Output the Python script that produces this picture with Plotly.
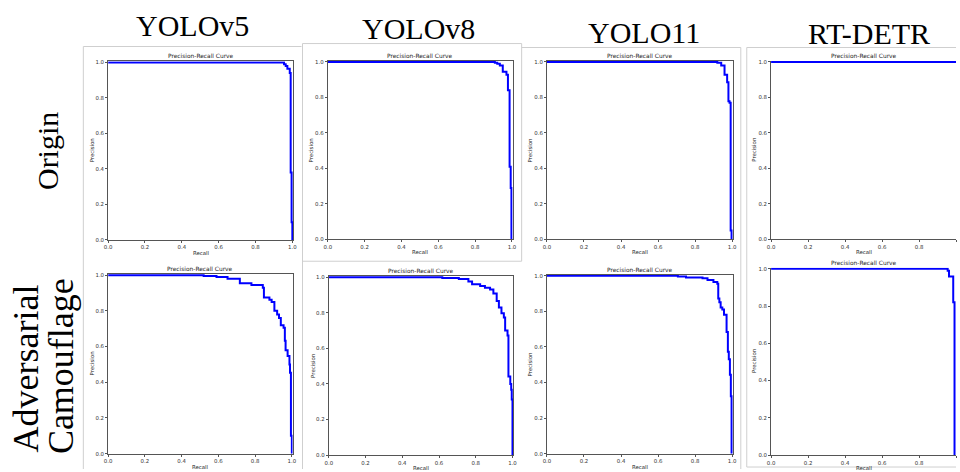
import plotly.graph_objects as go

# ---------------- data ----------------
models = ["YOLOv5", "YOLOv8", "YOLO11", "RT-DETR"]
row_labels = ["Origin", ["Adversarial", "Camouflage"]]
panel_title = "Precision-Recall Curve"
x_label = "Recall"
y_label = "Precision"
tick_vals = [0.0, 0.2, 0.4, 0.6, 0.8, 1.0]

# step PR curves: recall where a precision level starts, precision level
v5_orig_recall = [0, 0.955, 0.964, 0.973, 0.986, 0.991, 0.996, 1.0]
v5_orig_prec = [1.0, 0.99, 0.98, 0.965, 0.94, 0.38, 0.10, 0.0]

v5_adv_recall = [0, 0.52, 0.59, 0.65, 0.717, 0.78, 0.842, 0.848, 0.878, 0.89,
                 0.905, 0.92, 0.93, 0.94, 0.955, 0.962, 0.966, 0.977, 0.987,
                 0.99, 0.995, 1.0]
v5_adv_prec = [1.0, 0.995, 0.99, 0.98, 0.955, 0.945, 0.93, 0.875, 0.862, 0.85,
               0.80, 0.78, 0.76, 0.72, 0.706, 0.633, 0.58, 0.547, 0.50,
               0.453, 0.10, 0.0]

v8_orig_recall = [0, 0.907, 0.92, 0.934, 0.95, 0.97, 0.978, 0.987, 0.993, 0.997]
v8_orig_prec = [1.0, 0.995, 0.99, 0.98, 0.945, 0.928, 0.84, 0.41, 0.29, 0.0]

v8_adv_recall = [0, 0.618, 0.708, 0.76, 0.78, 0.824, 0.85, 0.878, 0.896, 0.914,
                 0.926, 0.94, 0.953, 0.96, 0.973, 0.978, 0.988, 0.993, 0.996, 1.0]
v8_adv_prec = [1.0, 0.995, 0.99, 0.975, 0.96, 0.95, 0.94, 0.93, 0.908, 0.866,
               0.829, 0.797, 0.773, 0.70, 0.672, 0.442, 0.40, 0.368, 0.313, 0.0]

y11_orig_recall = [0, 0.92, 0.941, 0.959, 0.973, 0.98, 0.986, 0.992, 0.997]
y11_orig_prec = [1.0, 0.995, 0.98, 0.928, 0.886, 0.779, 0.77, 0.05, 0.0]

y11_adv_recall = [0, 0.707, 0.751, 0.84, 0.867, 0.899, 0.92, 0.925, 0.931, 0.938,
                  0.947, 0.956, 0.97, 0.977, 0.982, 0.988, 0.993, 0.997]
y11_adv_prec = [1.0, 0.995, 0.99, 0.985, 0.975, 0.965, 0.955, 0.871, 0.85, 0.821,
                0.81, 0.78, 0.683, 0.572, 0.53, 0.443, 0.323, 0.0]

rt_orig_recall = [0, 1.0]
rt_orig_prec = [1.0, 1.0]

rt_adv_recall = [0, 0.955, 0.962, 0.985, 0.992]
rt_adv_prec = [1.0, 0.99, 0.958, 0.82, 0.0]

series = [
    (v5_orig_recall, v5_orig_prec), (v5_adv_recall, v5_adv_prec),
    (v8_orig_recall, v8_orig_prec), (v8_adv_recall, v8_adv_prec),
    (y11_orig_recall, y11_orig_prec), (y11_adv_recall, y11_adv_prec),
    (rt_orig_recall, rt_orig_prec), (rt_adv_recall, rt_adv_prec),
]

# ---------------- layout geometry (pixels) ----------------
W, H = 960, 472
# x of recall 0, x of recall 1, y of precision 1, y of precision 0
boxes = [
    (105, 291.5, 60, 240.5), (105, 291, 275, 456.5),
    (326.5, 513, 59.5, 240), (327.5, 513.5, 277, 458),
    (547.5, 735, 59.5, 240), (547.5, 735, 275.5, 456.5),
    (773.5, 960, 59.5, 240), (773.5, 960, 268.5, 458),
]

fx = lambda px: px / W
fy = lambda py: 1 - py / H

fig = go.Figure()
layout = dict(
    width=W, height=H, margin=dict(l=0, r=0, t=0, b=0),
    paper_bgcolor="white", plot_bgcolor="white", showlegend=False,
)
annotations = []
tick_font = dict(family="DejaVu Sans", size=5.4, color="#333333")
small = dict(family="DejaVu Sans", size=5.4, color="#222222")
title_font = dict(family="DejaVu Sans", size=5.9, color="#222222")

for i, ((rec, prec), (x0, x1, yt, yb)) in enumerate(zip(series, boxes)):
    k = i + 1
    xs = "x" if k == 1 else f"x{k}"
    ys = "y" if k == 1 else f"y{k}"
    last_col = i >= 6
    fig.add_trace(go.Scatter(
        x=rec, y=prec, mode="lines", xaxis=xs, yaxis=ys,
        line=dict(color="#0000ff", width=2, shape="hv"),
        hoverinfo="skip", showlegend=False,
    ))
    axis_common = dict(
        showgrid=False, zeroline=False, showline=True, linecolor="#555555",
        linewidth=1, mirror=not last_col, ticks="outside", ticklen=2,
        tickwidth=1, tickcolor="#555555", tickvals=tick_vals,
        tickformat=".1f", tickfont=tick_font, fixedrange=True,
    )
    layout["xaxis" if k == 1 else f"xaxis{k}"] = dict(
        domain=[fx(x0), fx(x1)], range=[0, 1.0 if last_col else 1.004],
        anchor=ys, **axis_common)
    layout["yaxis" if k == 1 else f"yaxis{k}"] = dict(
        domain=[fy(yb), fy(yt)], range=[0, 1.006], anchor=xs, **axis_common)

    annotations.append(dict(
        text=panel_title, xref=f"{xs} domain", yref=f"{ys} domain",
        x=0.5, y=1, xanchor="center", yanchor="bottom",
        yshift=0, showarrow=False, font=title_font))
    annotations.append(dict(
        text=x_label, xref=f"{xs} domain", yref=f"{ys} domain",
        x=0.5, y=0, xanchor="center", yanchor="top", yshift=-8,
        showarrow=False, font=small))
    annotations.append(dict(
        text=y_label, xref=f"{xs} domain", yref=f"{ys} domain",
        x=0, y=0.5, xanchor="center", yanchor="middle", xshift=-16.5,
        textangle=-90, showarrow=False, font=small))

# column titles
title_pos = [(190, 24), (418, 27), (645, 31), (872, 32)]
for name, (px, py) in zip(models, title_pos):
    annotations.append(dict(
        text=name, xref="paper", yref="paper", x=fx(px), y=fy(py),
        xanchor="center", yanchor="middle", showarrow=False,
        font=dict(family="Liberation Serif", size=30, color="black")))

# row labels
annotations.append(dict(
    text=row_labels[0], xref="paper", yref="paper", x=fx(44), y=fy(151),
    xanchor="center", yanchor="middle", textangle=-90, showarrow=False,
    font=dict(family="Liberation Serif", size=30, color="black")))
for txt, (px, py) in zip(row_labels[1], [(22.5, 370), (57.5, 368)]):
    annotations.append(dict(
        text=txt, xref="paper", yref="paper", x=fx(px), y=fy(py),
        xanchor="center", yanchor="middle", textangle=-90, showarrow=False,
        font=dict(family="Liberation Serif", size=36, color="black")))

layout["annotations"] = annotations

# light frames around the individual panel images
frame = dict(color="#cfcfcf", width=1)
segments = [
    (80, 45, 80, 472), (80, 45, 300, 45),
    (301, 42, 522, 42), (301, 42, 301, 472), (522, 42, 522, 262), (301, 262, 522, 262),
    (522, 46, 743, 46), (743, 46, 743, 472),
    (749, 46, 960, 46), (749, 46, 749, 470), (749, 470, 960, 470),
]
layout["shapes"] = [
    dict(type="line", xref="paper", yref="paper", x0=fx(a), y0=fy(b),
         x1=fx(c), y1=fy(d), line=frame, layer="below")
    for a, b, c, d in segments
]

fig.update_layout(**layout)
fig.write_html(
    "out.html",
    config={"displayModeBar": False, "staticPlot": True},
    post_script="document.body.style.margin='0';document.body.style.overflow='hidden';",
)
